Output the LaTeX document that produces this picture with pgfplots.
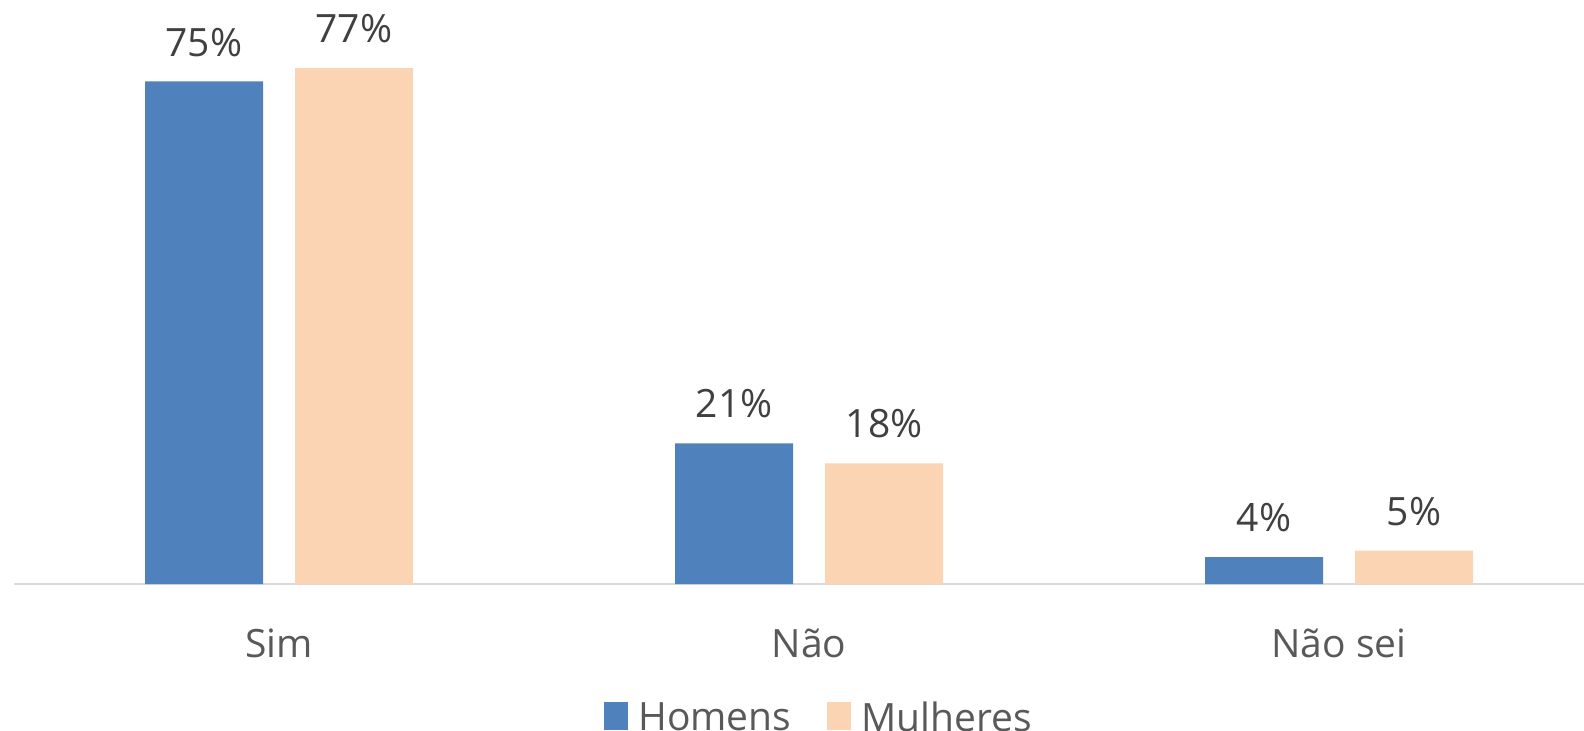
\documentclass[border=0pt]{standalone}
\usepackage{pgfplots}
\pgfplotsset{compat=1.18}
\usepackage{fontspec}
\setmainfont{Open Sans}
\definecolor{hblue}{HTML}{4F81BD}
\definecolor{mpeach}{HTML}{FBD4B4}
\definecolor{lbl}{HTML}{404040}
\definecolor{tck}{HTML}{595959}
\definecolor{axl}{HTML}{D9D9D9}
\begin{document}
\begin{tikzpicture}
\begin{axis}[
  at={(0,0)}, anchor=south west,
  scale only axis,
  width=785pt, height=292pt,
  xmin=-0.5, xmax=2.462,
  ymin=0, ymax=87.16,
  enlargelimits=false,
  clip=false,
  /pgf/number format/assume math mode=true,
  ybar=16pt, bar width=59pt,
  axis x line*=bottom,
  axis y line=none,
  x axis line style={draw=axl, line width=1pt, -},
  xtick={0,1,2},
  xticklabels={Sim,Não,Não sei},
  xtick style={draw=none},
  xticklabel style={font=\fontsize{19.5pt}{23pt}\selectfont, text=tck, yshift=-14.5pt},
  nodes near coords={\pgfmathprintnumber{\pgfplotspointmeta}\%},
  nodes near coords style={font=\fontsize{19.5pt}{23pt}\selectfont, text=lbl, anchor=south, yshift=9pt},
  legend style={at={(0.5,0)}, anchor=north, yshift=-54.5pt, xshift=10.5pt, draw=none, fill=none,
    font=\fontsize{19.5pt}{23pt}\selectfont, text=tck, legend columns=2,
    /tikz/every odd column/.append style={column sep=3pt},
    /tikz/every even column/.append style={column sep=16pt}},
  legend image code/.code={\fill[#1] (0pt,-6pt) rectangle (12pt,8pt);},
]
\addplot[fill=hblue, draw=none] coordinates {(0,75) (1,21) (2,4)};
\addplot[fill=mpeach, draw=none] coordinates {(0,77) (1,18) (2,5)};
\legend{Homens, Mulheres}
\end{axis}
\pgfresetboundingbox
\useasboundingbox (-7pt,-73pt) rectangle (785pt,292pt);
\end{tikzpicture}
\end{document}
